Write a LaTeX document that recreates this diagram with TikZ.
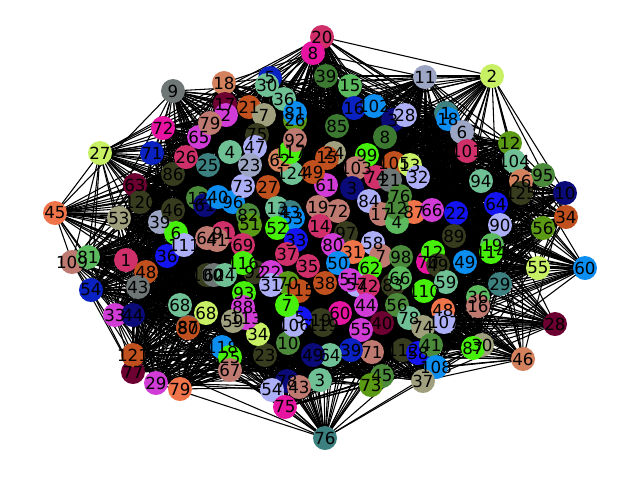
\documentclass[tikz,border=0pt]{standalone}
\usepackage{fontspec}
\setmainfont{DejaVu Sans}
\usetikzlibrary{backgrounds}
\pgfdeclarelayer{foreground}
\pgfsetlayers{background,main,foreground}
\definecolor{cr}{HTML}{D0306A}
\definecolor{mg}{HTML}{E614A0}
\definecolor{dg}{HTML}{3C7A32}
\definecolor{gr}{HTML}{5CBA5E}
\definecolor{gb}{HTML}{9CA6C4}
\definecolor{yg}{HTML}{C8F064}
\definecolor{gy}{HTML}{6E7676}
\definecolor{sa}{HTML}{D4825E}
\definecolor{bl}{HTML}{0A22C2}
\definecolor{mt}{HTML}{70C096}
\definecolor{dr}{HTML}{6C0030}
\definecolor{oc}{HTML}{D23CD6}
\definecolor{ru}{HTML}{C0501E}
\definecolor{kh}{HTML}{A0A07E}
\definecolor{ol}{HTML}{5A9A14}
\definecolor{dd}{HTML}{0C8EF0}
\definecolor{nv}{HTML}{0A0A78}
\definecolor{lv}{HTML}{ACAEF6}
\definecolor{te}{HTML}{3C8080}
\definecolor{li}{HTML}{46F00A}
\definecolor{ro}{HTML}{BE7A70}
\definecolor{do}{HTML}{383C1E}
\definecolor{mgr}{HTML}{4A8A3A}
\definecolor{orn}{HTML}{F0744A}
\definecolor{pb}{HTML}{1414F0}
\newcount\rseed \rseed=12345
\newcount\tmpa \newcount\tmpb
\def\nodelist{1/322/37/cr/20,
2/313/53/mg/8,
3/326/76/dg/39,
4/350/86/gr/15,
5/425/77/gb/11,
6/492/76/yg/2,
7/173/91/gy/9,
8/224/83/sa/18,
9/270/78/bl/5,
10/267/85/mt/30,
11/225/104/dr/17,
12/226/115/oc/2,
13/249/107/ru/21,
14/264/115/kh/7,
15/284/99/mt/36,
16/295/120/ol/26,
17/295/113/dd/81,
18/354/108/bl/16,
19/374/106/dd/102,
20/393/120/nv/3,
21/405/115/lv/28,
22/446/113/te/1,
23/448/119/dd/18,
24/462/132/gb/6,
25/467/151/cr/101,
26/337/126/dg/85,
27/385/137/dg/8,
28/367/155/li/99,
29/334/153/kh/24,
30/327/158/ru/15,
31/356/168/ro/103,
32/394/163/ru/105,
33/410/165/yg/13,
34/418/177/lv/32,
35/376/177/cr/74,
36/390/180/gy/21,
37/352/188/nv/3,
38/326/185/oc/61,
39/400/196/mgr/76,
40/414/212/orn/87,
41/432/210/oc/66,
42/456/213/pb/22,
43/481/181/mt/94,
44/369/201/lv/84,
45/381/214/ro/17,
46/397/222/gr/4,
47/397/208/mgr/12,
48/318/207/ro/19,
49/338/211/ro/72,
50/320/226/cr/14,
51/346/233/do/97,
52/454/236/do/89,
53/373/243/lv/58,
54/333/245/oc/80,
55/353/252/orn/31,
56/381/256/ro/7,
57/401/257/mgr/98,
58/428/262/mg/70,
59/433/252/li/12,
60/438/265/do/49,
61/465/262/dd/49,
62/338/263/dd/50,
63/370/268/li/62,
64/393/285/do/83,
65/400/278/gr/66,
66/446/282/mt/59,
67/424/291/li/110,
68/357/285/lv/57,
69/350/280/oc/51,
70/368/286/cr/42,
71/366/305/oc/44,
72/325/283/ru/38,
73/340/313/mg/60,
74/397/305/mgr/56,
75/409/318/mt/78,
76/382/323/dr/40,
77/443/310/orn/48,
78/478/297/gr/36,
79/478/306/ro/16,
80/444/322/lv/107,
81/423/327/kh/74,
82/321/320/do/19,
83/361/330/oc/55,
84/372/352/ro/71,
85/351/350/bl/39,
86/330/355/mt/64,
87/403/350/do/112,
88/418/353/pb/58,
89/431/345/mgr/41,
90/436/367/dd/108,
91/423/381/kh/37,
92/382/376/mgr/45,
93/371/385/ol/73,
94/482/345/kh/30,
95/473/348/li/87,
96/325/438/te/76,
97/320/380/mt/3,
98/287/381/nv/78,
99/299/387/ro/43,
100/272/390/lv/54,
101/285/407/mg/75,
102/313/355/nv/49,
103/288/343/mgr/10,
104/265/355/do/23,
105/258/334/yg/34,
106/300/318/pb/5,
107/294/325/lv/106,
108/323/325/do/119,
109/222/347/dd/118,
110/230/357/li/25,
111/230/370/ro/67,
112/180/389/orn/79,
113/156/383/oc/29,
114/133/372/dr/77,
115/133/355/ru/121,
116/115/315/oc/33,
117/133/315/nv/44,
118/91/290/bl/54,
119/72/262/ro/109,
120/88/257/gr/81,
121/55/213/orn/45,
122/126/260/cr/1,
123/146/272/ru/48,
124/138/287/gy/43,
125/167/256/pb/36,
126/119/218/kh/53,
127/135/185/dr/63,
128/140/202/do/120,
129/160/222/gb/39,
130/173/210/do/46,
131/173/174/do/86,
132/176/233/li/6,
133/184/245/lv/111,
134/198/198/mgr/12,
135/205/205/nv/61,
136/218/197/dd/40,
137/233/202/dd/96,
138/243/186/lv/73,
139/268/187/ru/27,
140/248/215/mgr/82,
141/250/225/ol/51,
142/277/208/mt/13,
143/290/212/te/43,
144/293/218/dd/53,
145/277/228/li/52,
146/223/233/cr/91,
147/207/238/ro/64,
148/217/240/ro/41,
149/243/245/cr/69,
150/296/240/pb/33,
151/287/254/cr/37,
152/308/266/cr/35,
153/255/272/do/92,
154/243/263/li/116,
155/271/272/oc/22,
156/288/283/ol/70,
157/271/285/lv/31,
158/299/291/ru/115,
159/207/275/do/100,
160/214/275/gy/60,
161/225/275/mt/24,
162/244/293/li/93,
163/243/307/oc/88,
164/246/318/oc/113,
165/287/305/li/7,
166/180/305/mt/68,
167/206/313/yg/68,
168/233/321/kh/59,
169/188/327/gy/87,
170/188/328/ru/80,
171/292/173/mt/124,
172/313/172/ru/49,
173/280/160/sa/62,
174/257/135/do/75,
175/255/147/lv/47,
176/250/165/gb/23,
177/208/165/te/25,
178/186/157/cr/26,
179/199/137/oc/65,
180/210/123/ro/79,
181/163/128/mg/72,
182/152/153/bl/71,
183/100/153/yg/27,
184/230/152/mt/4,
185/290/152/li/117,
186/295/140/ro/92,
187/510/143/ol/12,
188/514/161/mt/104,
189/543/175/mgr/95,
190/521/181/sa/26,
191/521/193/do/125,
192/565/193/nv/10,
193/566/217/ru/34,
194/496/204/pb/64,
195/500/225/lv/90,
196/543/228/ol/56,
197/492/245/gr/19,
198/491/252/li/114,
199/538/268/yg/55,
200/585/268/dd/60,
201/500/284/te/29,
202/555/324/dr/28,
203/523/359/sa/46}
\begin{document}
\begin{tikzpicture}[x=0.75pt,y=-0.75pt,
  nd/.style={circle,inner sep=0pt,minimum size=18pt},
  lbl/.style={inner sep=0pt,text=black,font=\fontsize{12.5}{14}\selectfont},
  edge/.style={line width=0.8pt,black}]
\useasboundingbox (0,0) rectangle (640,480);
\foreach \i/\xa/\ya/\cl/\lab in \nodelist {
  \node[nd,fill=\cl] (n\i) at (\xa,\ya) {};
}
\begin{pgfonlayer}{foreground}
\foreach \i/\xa/\ya/\cl/\lab in \nodelist {
  \node[lbl] (t\i) at (n\i.center) {\lab};
}
\end{pgfonlayer}
\begin{pgfonlayer}{background}
\foreach \i/\xa/\ya/\cl/\lab in \nodelist {
  \foreach \j/\xb/\yb/\cb/\lb in \nodelist {
    \ifnum\i<\j\relax
      \tmpa=\numexpr(\xa-\xb)*(\xa-\xb)+(\ya-\yb)*(\ya-\yb)\relax
      \ifnum\tmpa<176400\relax
        \tmpb=\rseed \multiply\tmpb by 171 \global\rseed=\tmpb
        \divide\tmpb by 30269 \multiply\tmpb by 30269
        \global\advance\rseed by -\tmpb
        \ifnum\rseed<\numexpr(176400-\tmpa)/18\relax
          \draw[edge] (n\i.center) -- (n\j.center);
        \fi
      \fi
    \fi
  }
}
\end{pgfonlayer}
\end{tikzpicture}
\end{document}
